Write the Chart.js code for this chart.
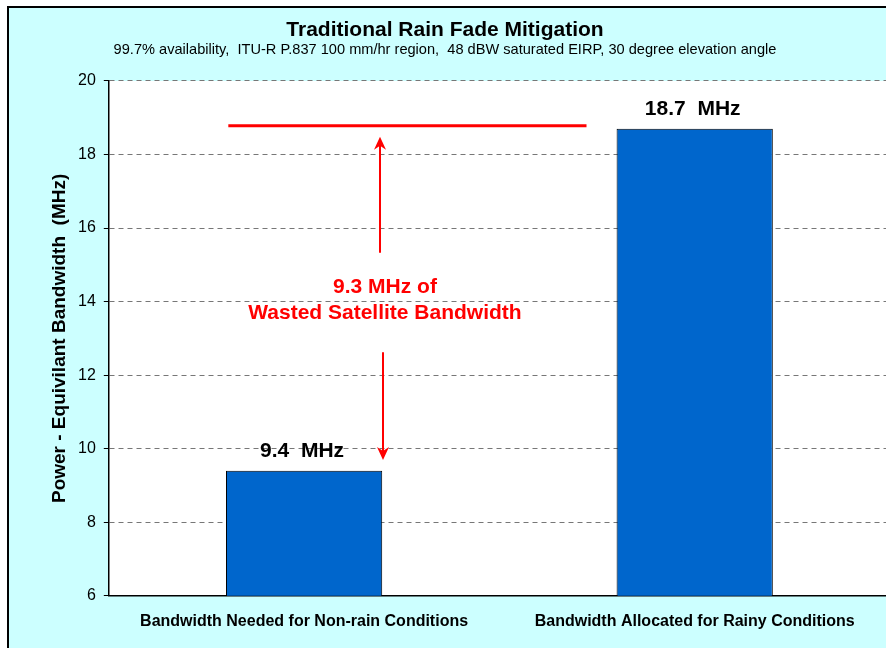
<!DOCTYPE html>
<html lang="en">
<head>
    <meta charset="UTF-8">
    <title>Traditional Rain Fade Mitigation</title>
    <script src="https://cdn.jsdelivr.net/npm/chart.js"></script>
    <style>
        html, body {
            margin: 0;
            padding: 0;
            background: #ffffff;
            overflow: hidden;
        }
        .chart-container {
            width: 890px;
            height: 650px;
        }
    </style>
</head>
<body>
    <div class="chart-container">
        <canvas id="fadeChart" width="890" height="650"></canvas>
    </div>

    <script>
        // chart data
        var categories = ["Bandwidth Needed for Non-rain Conditions", "Bandwidth Allocated for Rainy Conditions"];
        var bandwidth = [9.4, 18.7];
        var barLabels = ["9.4  MHz", "18.7  MHz"];
        var yTicks = [6, 8, 10, 12, 14, 16, 18, 20];
        var wastedText = ["9.3 MHz of", "Wasted Satellite Bandwidth"];

        var FONT = "Arial, 'Liberation Sans', sans-serif";
        Chart.defaults.font.family = FONT;
        Chart.defaults.color = "#000";

        // annotation placement in data units (x = fractional category index)
        var note = {
            lineY: 18.78, lineX0: -0.194, lineX1: 0.723,
            upX: 0.194, upFrom: 15.33, upTo: 18.48,
            downX: 0.202, downFrom: 12.62, downTo: 9.69,
            textX: 0.207, textY: [14.38, 13.68]
        };

        function arrowHead(ctx, x, y, dir) {
            // dir = -1 points up, 1 points down
            ctx.beginPath();
            ctx.moveTo(x, y);
            ctx.lineTo(x - 6, y - dir * 13);
            ctx.lineTo(x, y - dir * 9);
            ctx.lineTo(x + 6, y - dir * 13);
            ctx.closePath();
            ctx.fill();
        }

        var backdrop = {
            id: "backdrop",
            beforeDraw: function (chart) {
                var ctx = chart.ctx, a = chart.chartArea;
                ctx.save();
                ctx.fillStyle = "#ffffff";
                ctx.fillRect(0, 0, chart.width, chart.height);
                ctx.fillStyle = "#CCFFFF";
                ctx.fillRect(8, 7, chart.width, chart.height);
                ctx.strokeStyle = "#000";
                ctx.lineWidth = 2;
                ctx.strokeRect(8, 7, chart.width + 10, chart.height + 10);
                ctx.fillStyle = "#ffffff";
                ctx.fillRect(a.left, a.top, a.right - a.left, a.bottom - a.top);
                ctx.restore();
            }
        };

        var overlay = {
            id: "overlay",
            afterDatasetsDraw: function (chart) {
                var ctx = chart.ctx;
                var xs = chart.scales.x, ys = chart.scales.y;
                ctx.save();

                // value labels above the bars
                ctx.fillStyle = "#000";
                ctx.font = "bold 21px " + FONT;
                ctx.textAlign = "center";
                ctx.textBaseline = "middle";
                chart.getDatasetMeta(0).data.forEach(function (bar, i) {
                    ctx.fillText(barLabels[i], bar.x - 2, bar.y - 20);
                });

                // red level line
                ctx.strokeStyle = "#FF0000";
                ctx.fillStyle = "#FF0000";
                ctx.lineWidth = 3;
                ctx.beginPath();
                ctx.moveTo(xs.getPixelForValue(note.lineX0), ys.getPixelForValue(note.lineY));
                ctx.lineTo(xs.getPixelForValue(note.lineX1), ys.getPixelForValue(note.lineY));
                ctx.stroke();

                // arrows
                ctx.lineWidth = 2;
                var ux = Math.round(xs.getPixelForValue(note.upX));
                var upTip = ys.getPixelForValue(note.upTo);
                ctx.beginPath();
                ctx.moveTo(ux, ys.getPixelForValue(note.upFrom));
                ctx.lineTo(ux, upTip + 8);
                ctx.stroke();
                arrowHead(ctx, ux, upTip, -1);

                var dx = Math.round(xs.getPixelForValue(note.downX));
                var downTip = ys.getPixelForValue(note.downTo);
                ctx.beginPath();
                ctx.moveTo(dx, ys.getPixelForValue(note.downFrom));
                ctx.lineTo(dx, downTip - 8);
                ctx.stroke();
                arrowHead(ctx, dx, downTip, 1);

                // wasted bandwidth text
                ctx.font = "bold 21px " + FONT;
                wastedText.forEach(function (t, i) {
                    ctx.fillText(t, xs.getPixelForValue(note.textX), ys.getPixelForValue(note.textY[i]));
                });
                ctx.restore();
            }
        };

        var ctx = document.getElementById("fadeChart").getContext("2d");
        var fadeChart = new Chart(ctx, {
            type: "bar",
            data: {
                labels: categories,
                datasets: [{
                    data: bandwidth,
                    backgroundColor: "#0066CC",
                    borderColor: "#000",
                    borderWidth: 1,
                    barPercentage: 0.4,
                    categoryPercentage: 1
                }]
            },
            options: {
                responsive: false,
                animation: false,
                layout: { padding: { left: 0, right: 0, top: 0, bottom: 11 } },
                plugins: {
                    legend: { display: false },
                    tooltip: { enabled: false },
                    title: {
                        display: true,
                        text: "Traditional Rain Fade Mitigation",
                        color: "#000",
                        font: { size: 21, weight: "bold", lineHeight: 1.1 },
                        padding: { top: 18.5, bottom: 0 }
                    },
                    subtitle: {
                        display: true,
                        text: "99.7% availability,  ITU-R P.837 100 mm/hr region,  48 dBW saturated EIRP, 30 degree elevation angle",
                        color: "#000",
                        font: { size: 14.6, lineHeight: 1.1 },
                        padding: { top: 0, bottom: 23.3 }
                    }
                },
                scales: {
                    x: {
                        grid: { display: false },
                        border: { color: "#000", width: 1.5 },
                        ticks: { color: "#000", font: { size: 16, weight: "bold" }, padding: 8 }
                    },
                    y: {
                        min: 6,
                        max: 20,
                        afterBuildTicks: function (axis) {
                            axis.ticks = yTicks.map(function (v) { return { value: v }; });
                        },
                        grid: {
                            color: "#777",
                            lineWidth: 1,
                            tickColor: "#000",
                            tickLength: 5,
                            tickBorderDash: []
                        },
                        border: { color: "#000", width: 1.5, dash: [5, 4] },
                        ticks: { color: "#000", font: { size: 16 }, padding: 8 },
                        title: {
                            display: true,
                            text: "Power - Equivilant Bandwidth  (MHz)",
                            color: "#000",
                            font: { size: 19, weight: "bold", lineHeight: 1.0 },
                            padding: { top: 50, bottom: 1 }
                        }
                    }
                }
            },
            plugins: [backdrop, overlay]
        });
    </script>
</body>
</html>
